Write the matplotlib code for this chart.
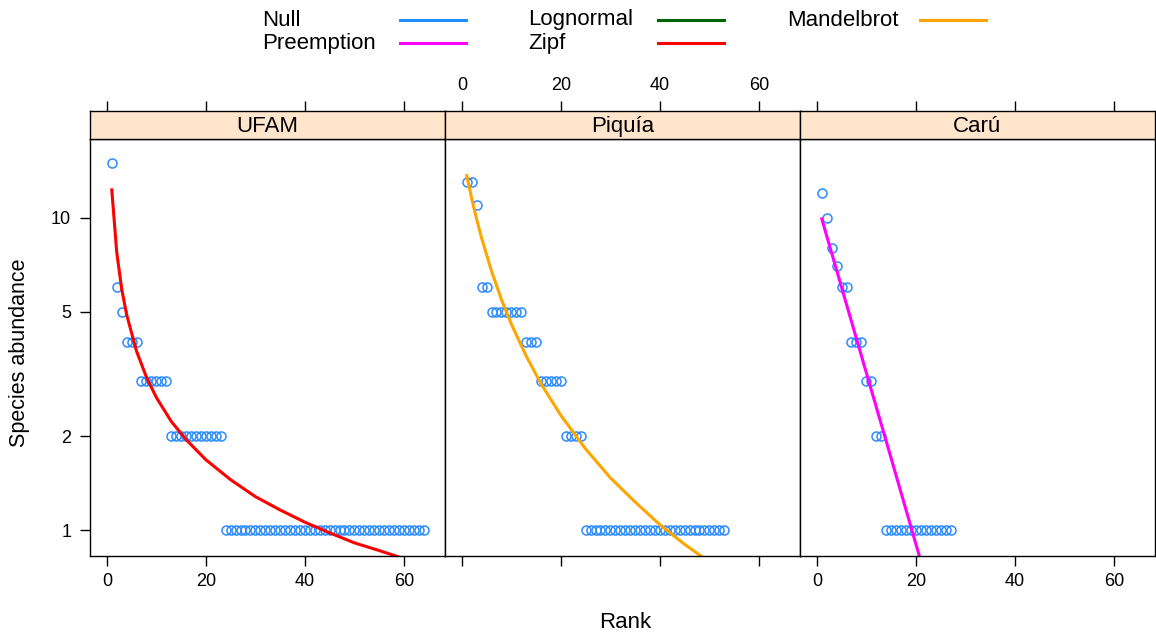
import matplotlib
matplotlib.use('Agg')
import matplotlib.pyplot as plt
from matplotlib.lines import Line2D
from matplotlib.ticker import NullLocator

plt.rcParams['font.family'] = ['Liberation Sans', 'DejaVu Sans']

# observed abundances, ranked
ufam_abund = [15, 6, 5, 4, 4, 4, 3, 3, 3, 3, 3, 3,
              2, 2, 2, 2, 2, 2, 2, 2, 2, 2, 2,
              1, 1, 1, 1, 1, 1, 1, 1, 1, 1, 1, 1, 1, 1, 1, 1, 1, 1, 1, 1,
              1, 1, 1, 1, 1, 1, 1, 1, 1, 1, 1, 1, 1, 1, 1, 1, 1, 1, 1, 1, 1]
piquia_abund = [13, 13, 11, 6, 6, 5, 5, 5, 5, 5, 5, 5, 4, 4, 4,
                3, 3, 3, 3, 3, 2, 2, 2, 2,
                1, 1, 1, 1, 1, 1, 1, 1, 1, 1, 1, 1, 1, 1, 1,
                1, 1, 1, 1, 1, 1, 1, 1, 1, 1, 1, 1, 1, 1]
caru_abund = [12, 10, 8, 7, 6, 6, 4, 4, 4, 3, 3, 2, 2,
              1, 1, 1, 1, 1, 1, 1, 1, 1, 1, 1, 1, 1, 1]

# best fitted model per site
ufam_fit_rank = [1, 2, 3, 4, 6, 8, 10, 13, 16, 20, 25, 30, 35, 40, 45, 50, 55, 60, 64]
ufam_fit = [12.3, 7.76, 5.92, 4.90, 3.74, 3.09, 2.66, 2.23, 1.95, 1.68,
            1.45, 1.28, 1.16, 1.06, 0.98, 0.91, 0.86, 0.81, 0.77]
piquia_fit_rank = [1, 2, 3, 4, 6, 8, 10, 13, 16, 20, 25, 30, 35, 40, 45, 50, 53]
piquia_fit = [13.67, 11.52, 9.89, 8.61, 6.75, 5.48, 4.57, 3.61, 2.94, 2.33,
              1.82, 1.47, 1.23, 1.04, 0.90, 0.79, 0.73]
caru_fit_rank = [1, 5, 10, 15, 20, 27]
caru_fit = [9.93, 5.99, 3.19, 1.70, 0.903, 0.373]

sites = ['UFAM', 'Piquía', 'Carú']
abunds = [ufam_abund, piquia_abund, caru_abund]
fit_ranks = [ufam_fit_rank, piquia_fit_rank, caru_fit_rank]
fits = [ufam_fit, piquia_fit, caru_fit]

model_names = ['Null', 'Lognormal', 'Mandelbrot', 'Preemption', 'Zipf']
model_cols = {'Null': '#1e90ff', 'Lognormal': '#006400', 'Mandelbrot': '#ffa500',
              'Preemption': '#ff00ff', 'Zipf': '#ff0000'}
site_model = ['Zipf', 'Mandelbrot', 'Preemption']

W, H = 1156, 637


def fx(p):
    return p / W


def fy(p):
    return 1 - p / H


fig = plt.figure(figsize=(W / 100, H / 100), dpi=100)

lefts = [90, 445, 800]
pw = 355
for i, site in enumerate(sites):
    ax = fig.add_axes([fx(lefts[i]), fy(556), pw / W, (556 - 139) / H])
    strip = fig.add_axes([fx(lefts[i]), fy(139), pw / W, 28 / H])

    ranks = list(range(1, len(abunds[i]) + 1))
    ax.plot(ranks, abunds[i], 'o', mfc='none', mec='#2b8cff', ms=6.5, mew=1.1)
    ax.plot(fit_ranks[i], fits[i], color=model_cols[site_model[i]], lw=2.2)

    ax.set_yscale('log')
    ax.set_ylim(0.826, 17.9)
    ax.set_xlim(-3.4, 68.3)
    ax.yaxis.set_minor_locator(NullLocator())
    ax.set_yticks([1, 2, 5, 10])
    ax.set_yticklabels(['1', '2', '5', '10'])
    ax.set_xticks([0, 20, 40, 60])
    ax.tick_params(axis='both', direction='out', length=7.5, width=1, labelsize=13,
                   pad=5)
    ax.tick_params(axis='x', labelbottom=(i != 1))
    ax.tick_params(axis='y', left=(i == 0), labelleft=(i == 0), right=(i == 2),
                   pad=6)
    for s in ax.spines.values():
        s.set_linewidth(1)

    strip.set_facecolor('#ffe5cc')
    strip.set_xlim(-3.4, 68.3)
    strip.set_yticks([])
    strip.set_xticks([0, 20, 40, 60])
    strip.tick_params(axis='x', top=True, bottom=False, labeltop=(i == 1),
                      labelbottom=False, direction='out', length=7.5, width=1,
                      labelsize=13, pad=5)
    for s in strip.spines.values():
        s.set_linewidth(1)
    strip.text(0.5, 0.45, site, transform=strip.transAxes, ha='center', va='center',
               fontsize=16)

fig.text(fx(625), fy(622), 'Rank', ha='center', va='center', fontsize=16)
fig.text(fx(20), fy(353), 'Species abundance', ha='center', va='center',
         rotation=90, fontsize=15.5)

# legend on top, three columns
key_pos = {'Null': (262, 400, 20), 'Preemption': (262, 400, 43),
           'Lognormal': (528, 658, 20), 'Zipf': (528, 658, 43),
           'Mandelbrot': (787, 920, 20)}
for name in model_names:
    tx, lx, yy = key_pos[name]
    fig.text(fx(tx), fy(yy), name, ha='left', va='center', fontsize=16)
    fig.add_artist(Line2D([fx(lx), fx(lx + 66)], [fy(yy), fy(yy)],
                          transform=fig.transFigure, color=model_cols[name], lw=2.2))

fig.savefig('out.png', dpi=100)
